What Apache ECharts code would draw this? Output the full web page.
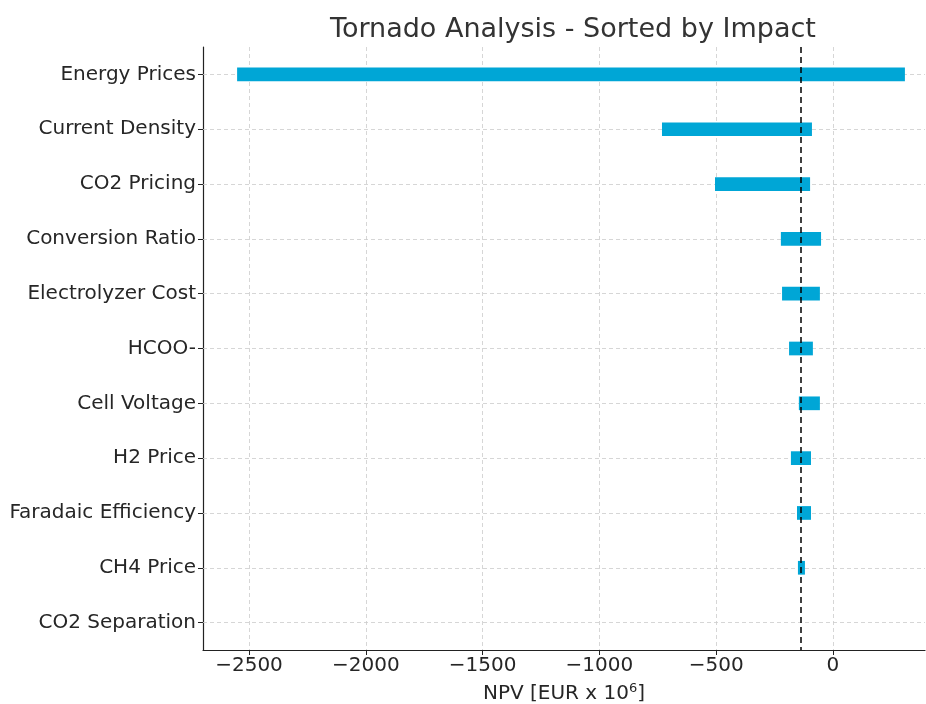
<!DOCTYPE html>
<html>
<head>
<meta charset="utf-8">
<script src="https://cdn.jsdelivr.net/npm/echarts@6/dist/echarts.min.js"></script>
<style>
  html, body { margin: 0; padding: 0; background: #fff; }
  #main { width: 926px; height: 704px; }
</style>
</head>
<body>
<div id="main"></div>
<script>
// 参数名称（从上到下按影响排序）
var categories = ['Energy Prices', 'Current Density', 'CO2 Pricing', 'Conversion Ratio',
  'Electrolyzer Cost', 'HCOO-', 'Cell Voltage', 'H2 Price', 'Faradaic Efficiency',
  'CH4 Price', 'CO2 Separation'];
// 每个参数的NPV下限和上限
var lowValues  = [-2551, -732, -505, -223, -218, -188, -146, -180, -154, -150, -137];
var highValues = [308, -90, -98, -51, -56, -86, -56, -94, -94, -120, -137];
// 基准NPV
var baseNpv = -137;
// x轴刻度
var xTicks = [-2500, -2000, -1500, -1000, -500, 0];

var font = 'DejaVu Sans';
var textColor = '#262626';

function fmt(v) {
  return String(v).replace('-', '\u2212');
}

var barData = [];
for (var i = 0; i < categories.length; i++) {
  barData.push([i, lowValues[i], highValues[i]]);
}

var myChart = echarts.init(document.getElementById('main'));

var option = {
  backgroundColor: '#fff',
  animation: false,
  title: {
    text: 'Tornado Analysis - Sorted by Impact',
    left: 325,
    top: 11,
    textStyle: { fontFamily: font, fontSize: 27, fontWeight: 'normal', color: '#333' }
  },
  grid: { left: 203, right: 1, top: 47, bottom: 54, outerBoundsMode: 'none' },
  xAxis: {
    type: 'value',
    min: -2697,
    max: 394,
    name: '{a|NPV [EUR x 10}{s|6}{a|]}',
    nameLocation: 'middle',
    nameGap: 32,
    nameTextStyle: {
      rich: {
        a: { fontFamily: font, fontSize: 20, color: textColor },
        s: { fontFamily: font, fontSize: 13, color: textColor, verticalAlign: 'top', padding: [0, 0, 10, 0] }
      }
    },
    axisLine: { show: true, onZero: false, lineStyle: { color: '#222', width: 1.2 } },
    axisTick: { show: true, length: 5, customValues: xTicks, lineStyle: { color: '#222' } },
    axisLabel: {
      customValues: xTicks,
      margin: 6,
      fontFamily: font, fontSize: 20, color: textColor,
      formatter: function (v) { return fmt(v); }
    },
    splitLine: { show: false }
  },
  yAxis: {
    type: 'category',
    data: categories,
    inverse: true,
    axisLine: { show: true, onZero: false, lineStyle: { color: '#222', width: 1.2 } },
    axisTick: { show: true, alignWithLabel: true, length: 5, lineStyle: { color: '#222' } },
    axisLabel: { margin: 7, fontFamily: font, fontSize: 20, color: textColor },
    splitLine: { show: false }
  },
  series: [
    {
      // 网格线
      type: 'line',
      data: [],
      z: 1,
      silent: true,
      markLine: {
        z: 1,
        symbol: 'none',
        silent: true,
        label: { show: false },
        lineStyle: { color: '#cccccc', type: [4, 3], width: 0.8 },
        data: xTicks.map(function (v) { return { xAxis: v }; })
          .concat(categories.map(function (c) { return { yAxis: c }; }))
      }
    },
    {
      type: 'custom',
      z: 3,
      data: barData,
      renderItem: function (params, api) {
        var cat = api.value(0);
        var p1 = api.coord([api.value(1), cat]);
        var p2 = api.coord([api.value(2), cat]);
        var h = api.size([0, 1])[1] * 0.25;
        return {
          type: 'rect',
          shape: { x: p1[0], y: p1[1] - h / 2, width: p2[0] - p1[0], height: h },
          style: { fill: '#00a6d6' }
        };
      },
      encode: { x: [1, 2], y: 0 },
      markLine: {
        z: 10,
        symbol: 'none',
        silent: true,
        label: { show: false },
        lineStyle: { color: '#000', type: [6, 4], width: 1.5 },
        data: [{ xAxis: baseNpv }]
      }
    }
  ]
};

myChart.setOption(option);
</script>
</body>
</html>
